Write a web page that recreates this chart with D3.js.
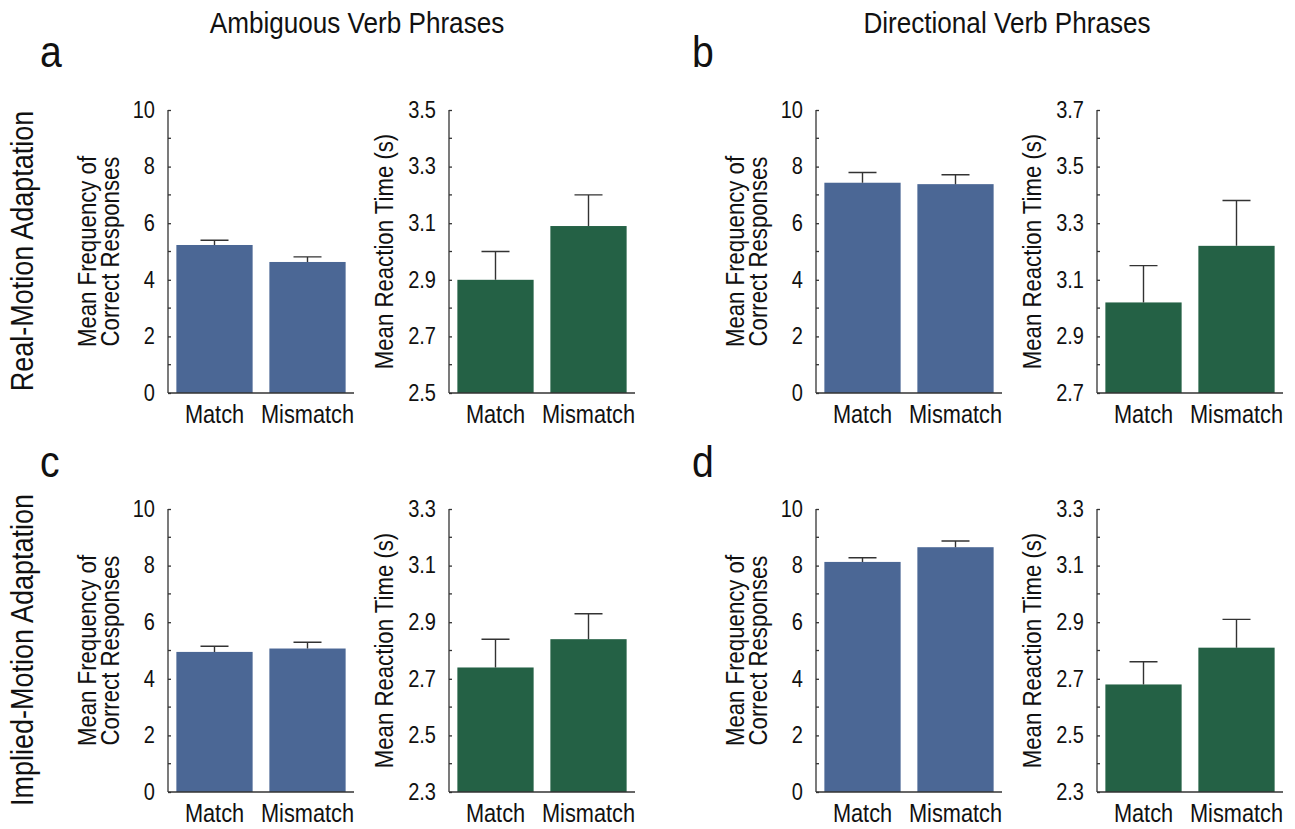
<!DOCTYPE html>
<html>
<head>
<meta charset="utf-8">
<script src="https://cdn.jsdelivr.net/npm/d3@7"></script>
<style>
    body { margin: 0; background: #fff; }
    svg { display: block; }
    text { font-family: "Liberation Sans", Arial, Helvetica, sans-serif; fill: #111; }
</style>
</head>
<body>
<div id="chart"></div>
<script>
// Data
const conditions = ['Match', 'Mismatch'];
const columnTitles = ['Ambiguous Verb Phrases', 'Directional Verb Phrases'];
const rowTitles = ['Real-Motion Adaptation', 'Implied-Motion Adaptation'];
const panelLetters = ['a', 'b', 'c', 'd'];

// mean frequency of correct responses (a, b, c, d)
const freqMeans = [[5.23, 4.63], [7.43, 7.38], [4.95, 5.07], [8.13, 8.65]];
const freqErrors = [[0.17, 0.18], [0.36, 0.33], [0.20, 0.22], [0.15, 0.22]];
const freqDomain = [0, 10];

// mean reaction time in seconds (a, b, c, d)
const rtMeans = [[2.90, 3.09], [3.02, 3.22], [2.74, 2.84], [2.68, 2.81]];
const rtErrors = [[0.10, 0.11], [0.13, 0.16], [0.10, 0.09], [0.08, 0.10]];
const rtDomains = [[2.5, 3.5], [2.7, 3.7], [2.3, 3.3], [2.3, 3.3]];

const width = 1295;
const height = 829;

const blue = '#4b6795';
const green = '#246145';
const ink = '#333';
const squeeze = 0.87; // the original uses a condensed sans

const svg = d3.select('#chart')
    .append('svg')
    .attr('width', width)
    .attr('height', height);

// squash text horizontally to mimic a condensed face
function condense(sel, f = squeeze) {
    sel.each(function() {
        const len = this.getComputedTextLength();
        d3.select(this)
            .attr('textLength', len * f)
            .attr('lengthAdjust', 'spacingAndGlyphs');
    });
}

// layout
const colX = [[168, 449], [816, 1097]];   // left edge of freq / rt axes per column
const rowY = [[110, 393], [509, 792]];    // top / bottom of plots per row
const plotW = 186;

function drawBars(x0, yTop, yBot, domain, step, means, errs, color, fmt) {
    const g = svg.append('g').attr('transform', `translate(${x0},0)`);

    const x = d3.scaleBand()
        .domain(conditions)
        .range([0, plotW])
        .paddingInner(0.18)
        .paddingOuter(0.09);

    const y = d3.scaleLinear()
        .domain(domain)
        .range([yBot, yTop]);

    const major = d3.range(domain[0], domain[1] + step / 2, step);
    const minor = d3.range(domain[0] + step / 2, domain[1], step);

    // bars
    g.selectAll('.bar')
        .data(conditions)
        .join('rect')
        .attr('class', 'bar')
        .attr('x', d => x(d))
        .attr('width', x.bandwidth())
        .attr('y', (d, i) => y(means[i]))
        .attr('height', (d, i) => yBot - y(means[i]))
        .attr('fill', color);

    // error bars (upper only)
    const capW = 28;
    g.selectAll('.err')
        .data(conditions)
        .join('path')
        .attr('class', 'err')
        .attr('d', (d, i) => {
            const cx = x(d) + x.bandwidth() / 2;
            const top = y(means[i] + errs[i]);
            return `M${cx},${y(means[i])}V${top}M${cx - capW / 2},${top}H${cx + capW / 2}`;
        })
        .attr('fill', 'none')
        .attr('stroke', ink)
        .attr('stroke-width', 1.4);

    // y axis with inward ticks
    const axis = g.append('g')
        .call(d3.axisLeft(y).tickValues(major).tickSize(-3).tickPadding(13).tickFormat(fmt));
    axis.selectAll('text')
        .attr('font-size', '23px')
        .attr('fill', '#111')
        .call(condense);
    axis.select('.domain').attr('d', `M0,${yTop}V${yBot}`);
    axis.selectAll('line, path').attr('stroke', ink).attr('stroke-width', 1.3);

    g.selectAll('.minor')
        .data(minor)
        .join('line')
        .attr('class', 'minor')
        .attr('x1', 0).attr('x2', 3)
        .attr('y1', d => y(d)).attr('y2', d => y(d))
        .attr('stroke', ink)
        .attr('stroke-width', 1.3);

    // x baseline, no ticks
    g.append('line')
        .attr('x1', 0).attr('x2', plotW)
        .attr('y1', yBot).attr('y2', yBot)
        .attr('stroke', ink)
        .attr('stroke-width', 1.3);

    g.selectAll('.xlab')
        .data(conditions)
        .join('text')
        .attr('class', 'xlab')
        .attr('x', d => x(d) + x.bandwidth() / 2)
        .attr('y', yBot + 30)
        .attr('text-anchor', 'middle')
        .attr('font-size', '25px')
        .text(d => d)
        .call(condense);

    return g;
}

function vText(x, y, str, size) {
    svg.append('text')
        .attr('transform', `translate(${x},${y}) rotate(-90)`)
        .attr('text-anchor', 'middle')
        .attr('font-size', size)
        .text(str)
        .call(condense);
}

panelLetters.forEach((letter, p) => {
    const row = Math.floor(p / 2);
    const col = p % 2;
    const [fx, rx] = colX[col];
    const [yTop, yBot] = rowY[row];
    const yMid = (yTop + yBot) / 2;

    drawBars(fx, yTop, yBot, freqDomain, 2, freqMeans[p], freqErrors[p], blue, d3.format('d'));
    drawBars(rx, yTop, yBot, rtDomains[p], 0.2, rtMeans[p], rtErrors[p], green, d3.format('.1f'));

    vText(fx - 72, yMid, 'Mean Frequency of', '25.5px');
    vText(fx - 49, yMid, 'Correct Responses', '25.5px');
    vText(rx - 56, yMid, 'Mean Reaction Time (s)', '25.5px');

    svg.append('text')
        .attr('x', col === 0 ? 40 : 692)
        .attr('y', row === 0 ? 67 : 477)
        .attr('font-size', '45px')
        .text(letter)
        .call(condense);
});

columnTitles.forEach((t, i) => {
    svg.append('text')
        .attr('x', i === 0 ? 357 : 1007)
        .attr('y', 33)
        .attr('text-anchor', 'middle')
        .attr('font-size', '30px')
        .text(t)
        .call(condense);
});

rowTitles.forEach((t, i) => {
    vText(33, i === 0 ? 251 : 650, t, '31px');
});
</script>
</body>
</html>
